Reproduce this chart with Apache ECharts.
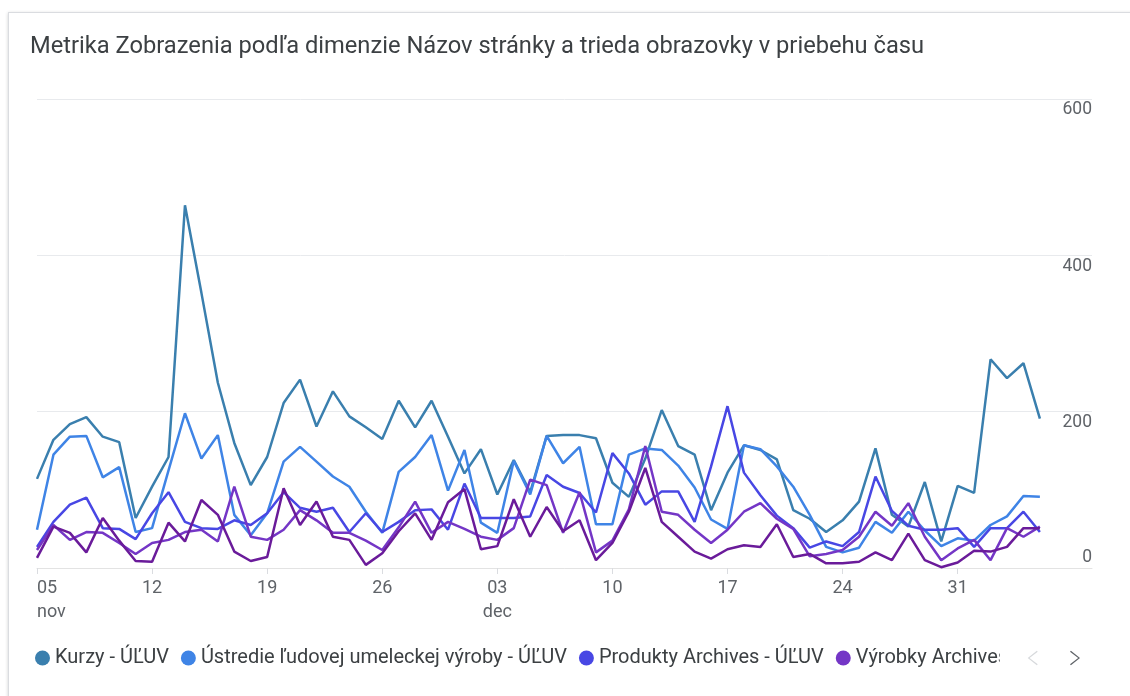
<!DOCTYPE html>
<html>
<head>
<meta charset="utf-8">
<script src="https://cdn.jsdelivr.net/npm/echarts@6/dist/echarts.min.js"></script>
<style>
  html, body { margin: 0; padding: 0; background: #ffffff; }
  body { width: 1130px; height: 696px; overflow: hidden; position: relative; }
  #card { position: absolute; left: 8px; top: 12px; width: 1140px; height: 700px;
          border: 1px solid #dadce0; box-shadow: 0 1px 3px rgba(60,64,67,0.25); background: #fff; }
  #chart { position: absolute; left: 0; top: 0; width: 1130px; height: 696px; }
</style>
</head>
<body>
<div id="card"></div>
<div id="chart"></div>
<script>
// Days from 05 Nov to 05 Jan (index 0..61)
const dayLabels = ['05','06','07','08','09','10','11','12','13','14','15','16','17','18','19','20','21','22','23','24','25','26','27','28','29','30',
  '01','02','03','04','05','06','07','08','09','10','11','12','13','14','15','16','17','18','19','20','21','22','23','24','25','26','27','28','29','30','31',
  '01','02','03','04','05'];
const monthLabels = {0: 'nov', 28: 'dec'};
const tickIdx = [0, 7, 14, 21, 28, 35, 42, 49, 56];
const yTicks = [0, 200, 400, 600];

const seriesNames = ['Kurzy - ÚĽUV', 'Ústredie ľudovej umeleckej výroby - ÚĽUV', 'Produkty Archives - ÚĽUV', 'Výrobky Archives - ÚĽUV', 'Remeslá - ÚĽUV'];

const kurzy = [114,164,184,193,168,161,64,104,142,464,352,237,160,106,142,211,241,181,226,194,
  180,165,214,180,214,168,121,152,94,138,97,169,170,170,166,109,91,140,202,156,
  145,74,122,157,151,139,74,63,46,61,85,153,68,53,110,34,105,96,267,243,262,191];
const ustredie = [49,145,168,169,116,129,46,51,125,198,140,170,68,42,70,136,155,136,117,104,
  72,45,123,142,170,99,151,58,45,137,94,169,134,155,56,56,145,153,151,131,
  103,62,50,157,152,130,104,68,27,20,26,59,45,72,48,28,38,35,55,66,92,91];
const produkty = [27,59,81,90,51,50,37,70,97,59,51,50,61,55,70,97,77,72,77,46,
  70,46,59,74,75,49,108,64,64,64,66,119,104,96,71,147,121,81,98,98,
  59,130,207,122,93,67,51,26,34,28,46,117,73,54,49,49,51,27,51,51,72,46];
const vyrobky = [23,55,36,46,45,32,18,32,36,46,49,34,104,40,36,49,74,61,45,45,
  35,23,52,85,45,59,50,40,36,51,113,106,45,97,20,35,75,156,72,68,
  49,32,49,72,83,63,50,15,18,23,40,72,54,83,40,10,25,36,10,51,40,53];
const remesla = [13,53,45,20,64,35,9,8,58,34,87,68,21,9,14,102,55,85,40,36,
  4,19,47,70,36,84,101,24,28,88,40,78,47,61,10,32,72,128,59,40,
  21,12,24,29,27,56,14,18,6,6,8,20,10,44,10,1,7,22,21,27,51,51];

const colors = ['#3a7fae', '#3f84e6', '#4847e4', '#7436c6', '#6a1b9a'];
const allData = [kurzy, ustredie, produkty, vyrobky, remesla];

const chart = echarts.init(document.getElementById('chart'), null, {renderer: 'canvas'});
const FONT = 'Roboto, "Noto Sans", sans-serif';

const option = {
  animation: false,
  backgroundColor: 'transparent',
  color: colors,
  title: {
    text: 'Metrika Zobrazenia podľa dimenzie Názov stránky a trieda obrazovky v priebehu času',
    left: 30, top: 35, padding: 0,
    textStyle: { fontFamily: FONT, fontSize: 23.7, fontWeight: 400, color: '#3c4043' }
  },
  grid: { left: 37, right: 38, top: 99, bottom: 128, containLabel: false },
  xAxis: {
    type: 'value',
    min: 0, max: 64.17, interval: 7,
    axisLine: { show: true, lineStyle: { color: '#e3e3e3', width: 1 } },
    axisTick: { show: true, length: 6, lineStyle: { color: '#dadce0' }, customValues: tickIdx },
    splitLine: { show: false },
    axisLabel: {
      customValues: tickIdx,
      margin: 8,
      fontFamily: FONT, fontSize: 18, color: '#5f6368', lineHeight: 24,
      alignMinLabel: 'left',
      formatter: function (v) {
        const i = Math.round(v);
        if (i < 0 || i >= dayLabels.length) return '';
        return monthLabels[i] ? dayLabels[i] + '\n' + monthLabels[i] : dayLabels[i];
      }
    }
  },
  yAxis: {
    type: 'value',
    position: 'right',
    min: 0, max: 600, interval: 200,
    axisLine: { show: false },
    axisTick: { show: false },
    splitLine: { show: true, lineStyle: { color: '#e8eaed', width: 1 } },
    axisLabel: {
      inside: true, margin: 0,
      fontFamily: FONT, fontSize: 17.5, color: '#5f6368',
      verticalAlign: 'top', verticalAlignMinLabel: 'bottom',
      padding: [2, 0, 1, 0],
      formatter: function (v) { return yTicks.indexOf(v) >= 0 ? String(v) : ''; }
    }
  },
  legend: {
    type: 'scroll',
    orient: 'horizontal',
    left: 30, top: 638, width: 1045,
    icon: 'circle', itemWidth: 15, itemHeight: 15, itemGap: 12,
    textStyle: { fontFamily: FONT, fontSize: 20, color: '#3c4043', lineHeight: 30 },
    pageButtonPosition: 'end',
    pageButtonGap: 28,
    pageButtonItemGap: 15,
    pageFormatter: function () { return ''; },
    pageTextStyle: { color: 'rgba(0,0,0,0)', fontSize: 1 },
    pageIconSize: [10, 16],
    pageIconColor: '#5f6368',
    pageIconInactiveColor: '#d7d9dc',
    pageIcons: {
      horizontal: ['path://M10,0 L0,8 L10,16 L11,15 L2,8 L11,1 Z', 'path://M0,1 L9,8 L0,15 L1,16 L11,8 L1,0 Z']
    },
    data: seriesNames
  },
  series: seriesNames.map((name, k) => ({
    name: name,
    type: 'line',
    showSymbol: false,
    symbol: 'none',
    data: allData[k].map((v, i) => [i, v]),
    lineStyle: { width: 2.5, color: colors[k] },
    itemStyle: { color: colors[k] },
    emphasis: { disabled: true }
  }))
};
chart.setOption(option);
</script>
</body>
</html>
